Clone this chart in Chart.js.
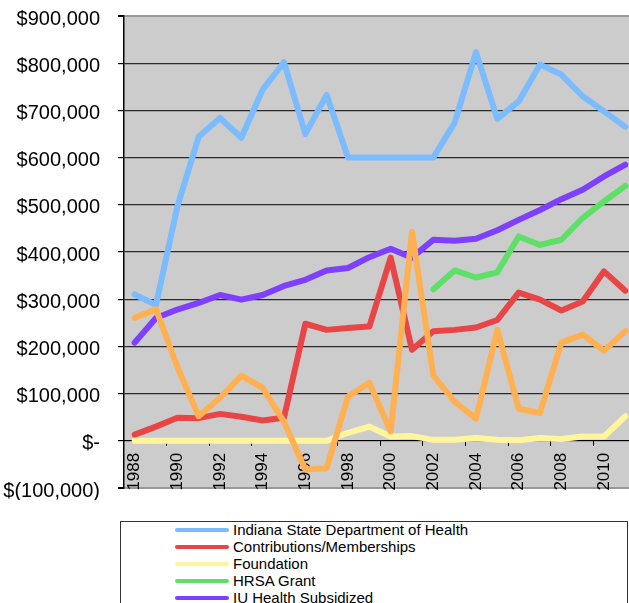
<!DOCTYPE html>
<html>
<head>
<meta charset="utf-8">
<title>Funding sources 1988-2011</title>
<script src="https://cdn.jsdelivr.net/npm/chart.js@4.4.1/dist/chart.umd.min.js"></script>
<style>
    html, body { margin: 0; padding: 0; background: #fff; overflow: hidden; width: 629px; height: 603px; }
    #wrap { position: absolute; left: 0; top: 0; width: 636px; height: 500px; }
    #legend {
        position: absolute; left: 120px; top: 521px; width: 506px; height: 110px;
        border: 1px solid #333;
        font-family: "Liberation Sans", Arial, sans-serif; font-size: 15px; color: #000;
    }
    .item { position: absolute; left: 0; height: 17px; line-height: 17px; white-space: nowrap; }
    .swatch { position: absolute; left: 54px; top: 7px; width: 54px; height: 4px; border-radius: 2px; }
    .label { position: absolute; left: 112px; top: 0; }
</style>
</head>
<body>
<div id="wrap"><canvas id="fundingChart"></canvas></div>
<div id="legend"></div>

<script>
// categories
const years = ['1988', '1989', '1990', '1991', '1992', '1993', '1994', '1995', '1996', '1997', '1998', '1999',
    '2000', '2001', '2002', '2003', '2004', '2005', '2006', '2007', '2008', '2009', '2010', '2011'];

// series values (dollars)
const indianaHealth = [310000, 288000, 496000, 644000, 684000, 642000, 744000, 802000, 650000, 733000, 600000, 600000,
    600000, 600000, 600000, 674000, 823000, 682000, 719000, 797000, 776000, 730000, 698000, 665000];
const contributions = [13000, 30000, 49000, 48000, 57000, 51000, 43000, 49000, 248000, 235000, 239000, 242000,
    388000, 193000, 232000, 235000, 240000, 256000, 314000, 299000, 276000, 295000, 359000, 318000];
const foundation = [0, 0, 0, 0, 0, 0, 0, 0, 0, 0, 17000, 30000,
    9000, 10000, 2000, 2000, 6000, 2000, 1000, 6000, 4000, 9000, 9000, 52000];
const hrsaGrant = [null, null, null, null, null, null, null, null, null, null, null, null,
    null, null, 321000, 361000, 346000, 357000, 433000, 415000, 426000, 472000, 507000, 540000];
const iuHealth = [208000, 260000, 278000, 292000, 309000, 299000, 309000, 328000, 341000, 361000, 366000, 389000,
    407000, 388000, 426000, 424000, 428000, 446000, 468000, 489000, 512000, 532000, 560000, 585000];
const otherRevenue = [260000, 279000, 157000, 52000, 91000, 138000, 112000, 40000, -61000, -58000, 94000, 123000,
    20000, 443000, 138000, 83000, 47000, 235000, 68000, 59000, 208000, 225000, 191000, 232000];

// y axis ticks
const Y_MIN = -100000;
const Y_MAX = 900000;
const Y_STEP = 100000;

const series = [
    { label: 'Indiana State Department of Health', data: indianaHealth, color: '#7BBBFF' },
    { label: 'Contributions/Memberships', data: contributions, color: '#E84646' },
    { label: 'Foundation', data: foundation, color: '#FFF59C' },
    { label: 'HRSA Grant', data: hrsaGrant, color: '#5EE068' },
    { label: 'IU Health Subsidized', data: iuHealth, color: '#7F3FFF' },
    { label: 'Other', data: otherRevenue, color: '#FFB152' }
];

function formatDollars(v) {
    if (v === 0) return '$-';
    const s = Math.abs(v).toLocaleString('en-US');
    return v < 0 ? '$(' + s + ')' : '$' + s;
}

const plotBackground = {
    id: 'plotBackground',
    beforeDraw(chart) {
        const { ctx, chartArea } = chart;
        ctx.save();
        ctx.fillStyle = '#CCCCCC';
        ctx.fillRect(chartArea.left, chartArea.top, chartArea.right - chartArea.left, chartArea.bottom - chartArea.top);
        ctx.restore();
    }
};

const font = '"Liberation Sans", Arial, sans-serif';

new Chart(document.getElementById('fundingChart'), {
    type: 'line',
    data: {
        labels: years,
        datasets: series.map((s, i) => ({
            label: s.label,
            data: s.data,
            borderColor: s.color,
            backgroundColor: s.color,
            borderWidth: 6,
            borderCapStyle: 'round',
            borderJoinStyle: 'round',
            pointRadius: 0,
            tension: 0,
            fill: false,
            order: series.length - 1 - i
        }))
    },
    options: {
        responsive: true,
        maintainAspectRatio: false,
        animation: false,
        devicePixelRatio: 1,
        layout: { padding: { left: 0, top: 16, right: 0, bottom: 12 } },
        plugins: {
            legend: { display: false },
            tooltip: { enabled: false }
        },
        scales: {
            x: {
                type: 'category',
                offset: true,
                position: { y: 0 },
                afterFit: (s) => {
                    s.height = 0;
                    s.paddingLeft = 0;
                    s.paddingRight = 0;
                },
                border: { display: true, color: '#000', width: 1 },
                grid: {
                    offset: true,
                    drawOnChartArea: false,
                    drawTicks: true,
                    tickLength: 5,
                    tickColor: (c) => (c.index % 2 === 0 ? '#000' : 'rgba(0,0,0,0)')
                },
                ticks: {
                    autoSkip: false,
                    minRotation: 90,
                    maxRotation: 90,
                    padding: 7,
                    color: '#000',
                    font: { family: font, size: 17 },
                    callback: (v, i) => (i % 2 === 0 ? years[i] : '')
                }
            },
            y: {
                min: Y_MIN,
                max: Y_MAX,
                afterFit: (s) => {
                    s.width = 124;
                    s.paddingTop = 0;
                    s.paddingBottom = 0;
                },
                border: { display: true, color: '#000', width: 1.5 },
                grid: {
                    color: (c) => (c.tick && (c.tick.value === Y_MAX || c.tick.value === Y_MIN) ? '#999' : '#2a2a2a'),
                    lineWidth: (c) => (c.tick && (c.tick.value === Y_MAX || c.tick.value === Y_MIN) ? 2 : 1.2),
                    tickColor: '#000',
                    tickLength: 6
                },
                ticks: {
                    stepSize: Y_STEP,
                    padding: 18,
                    labelOffset: 3,
                    color: '#000',
                    font: { family: font, size: 20 },
                    callback: (v) => formatDollars(v)
                }
            }
        }
    },
    plugins: [plotBackground]
});

// legend
const legend = document.getElementById('legend');
series.forEach((s, i) => {
    const item = document.createElement('div');
    item.className = 'item';
    item.style.top = (-1 + i * 17) + 'px';
    item.innerHTML = `<span class="swatch" style="background:${s.color}"></span><span class="label">${s.label}</span>`;
    legend.appendChild(item);
});
</script>
</body>
</html>
